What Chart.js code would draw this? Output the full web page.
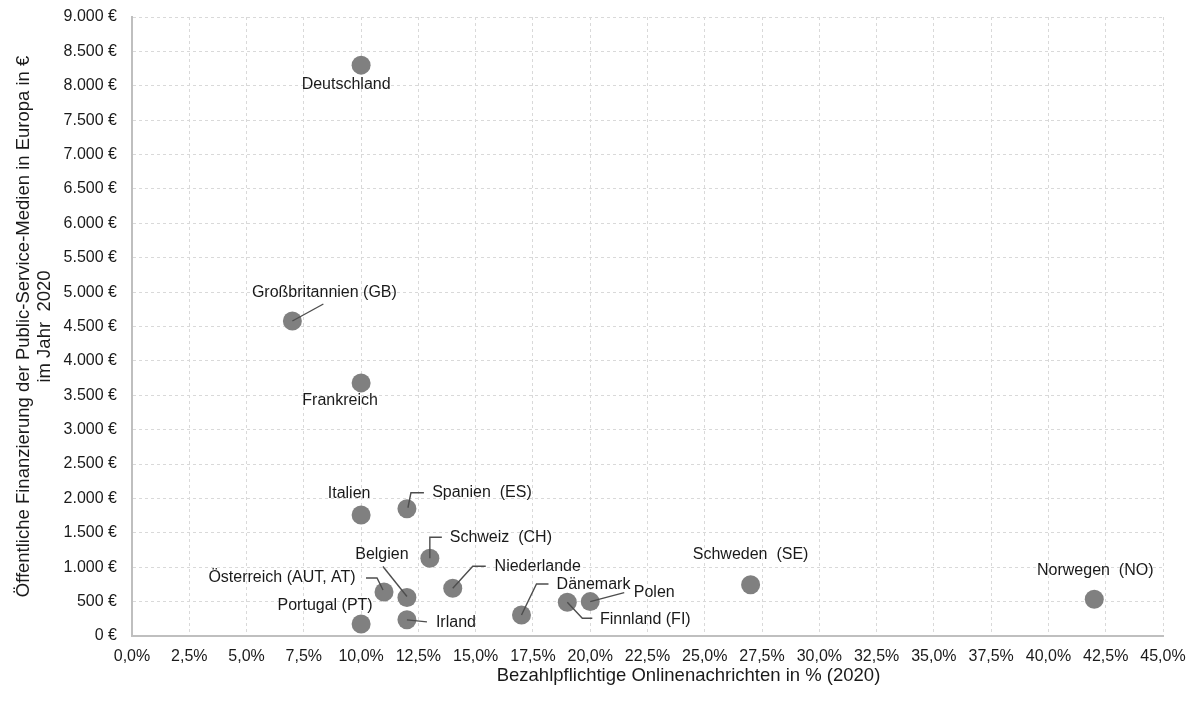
<!DOCTYPE html>
<html lang="de">
<head>
<meta charset="utf-8">
<title>Public-Service-Medien in Europa</title>
<script src="https://cdn.jsdelivr.net/npm/chart.js@4.4.1/dist/chart.umd.min.js"></script>
<style>
    html, body { margin: 0; padding: 0; background: #ffffff; }
    #wrap { width: 1200px; height: 704px; }
</style>
</head>
<body>
<div id="wrap"><canvas id="scatterChart" width="1200" height="704"></canvas></div>
<script>
// Data
const countries = [
    'Deutschland', 'Großbritannien (GB)', 'Frankreich', 'Italien', 'Spanien  (ES)',
    'Schweiz  (CH)', 'Belgien', 'Irland', 'Portugal (PT)', 'Österreich (AUT, AT)',
    'Niederlande', 'Dänemark', 'Finnland (FI)', 'Polen', 'Schweden  (SE)', 'Norwegen  (NO)'
];
// Bezahlpflichtige Onlinenachrichten in % (2020)
const paidOnlineNews = [10, 7, 10, 10, 12, 13, 12, 12, 10, 11, 14, 17, 19, 20, 27, 42];
// Öffentliche Finanzierung in € (2020)
const publicFunding = [8300, 4580, 3680, 1760, 1850, 1130, 560, 235, 175, 640, 695, 305, 490, 500, 745, 535];

const xTitle = 'Bezahlpflichtige Onlinenachrichten in % (2020)';
const yTitle = ['Öffentliche Finanzierung der Public-Service-Medien in Europa in €', 'im Jahr  2020'];

// label placement (pixel offsets from the point), leader = polyline offsets
const labelLayout = [
    { dx: -15, dy: 19 },
    { dx: 32, dy: -28, leader: [[0, 0], [31, -17]] },
    { dx: -21, dy: 18 },
    { dx: -12, dy: -21 },
    { dx: 75, dy: -16, leader: [[1, -1], [4, -16], [17, -16]] },
    { dx: 71, dy: -21, leader: [[0, 0], [0, -21], [12, -21]] },
    { dx: -25, dy: -43, leader: [[-24, -31], [0, -1]] },
    { dx: 49, dy: 3, leader: [[0, 0], [20, 2]] },
    { dx: -36, dy: -18 },
    { dx: -102, dy: -14, leader: [[-18, -14], [-7, -14], [-1, -2]] },
    { dx: 85, dy: -22, leader: [[0, 0], [20, -22], [33, -22]] },
    { dx: 72, dy: -30, leader: [[0, 0], [15, -31], [27, -31]] },
    { dx: 78, dy: 17, leader: [[0, 0], [15, 16], [25, 16]] },
    { dx: 64, dy: -9, leader: [[0, 0], [34, -9]] },
    { dx: 0, dy: -30 },
    { dx: 1, dy: -29 }
];

const FONT = "'Liberation Sans', Arial, sans-serif";
const TEXT = '#1a1a1a';

function euro(v) {
    const s = String(Math.round(v)).replace(/\B(?=(\d{3})+(?!\d))/g, '.');
    return s + ' €';
}

function percent(v) {
    return v.toFixed(1).replace('.', ',') + '%';
}

// draws country names plus their leader lines
const pointLabels = {
    id: 'pointLabels',
    afterDatasetsDraw(chart) {
        const { ctx } = chart;
        const meta = chart.getDatasetMeta(0);
        ctx.save();
        ctx.font = '16px ' + FONT;
        ctx.fillStyle = TEXT;
        ctx.textAlign = 'center';
        ctx.textBaseline = 'middle';
        ctx.strokeStyle = '#4d4d4d';
        ctx.lineWidth = 1.4;
        meta.data.forEach((pt, i) => {
            const lay = labelLayout[i];
            if (lay.leader) {
                ctx.beginPath();
                lay.leader.forEach(([ox, oy], k) => {
                    if (k === 0) ctx.moveTo(pt.x + ox, pt.y + oy);
                    else ctx.lineTo(pt.x + ox, pt.y + oy);
                });
                ctx.stroke();
            }
            ctx.fillText(countries[i], pt.x + lay.dx, pt.y + lay.dy);
        });
        ctx.restore();
    }
};

// x axis title sits a bit right of the plot centre in the original
const xAxisTitle = {
    id: 'xAxisTitle',
    afterDraw(chart) {
        const { ctx, chartArea } = chart;
        ctx.save();
        ctx.font = '18.5px ' + FONT;
        ctx.fillStyle = TEXT;
        ctx.textAlign = 'center';
        ctx.textBaseline = 'middle';
        ctx.fillText(xTitle, (chartArea.left + chartArea.right) / 2 + 41, chartArea.bottom + 40);
        ctx.restore();
    }
};

const ctx = document.getElementById('scatterChart').getContext('2d');

new Chart(ctx, {
    type: 'scatter',
    data: {
        datasets: [{
            label: 'Länder',
            data: paidOnlineNews.map((x, i) => ({ x: x, y: publicFunding[i] })),
            backgroundColor: '#808080',
            borderWidth: 0,
            pointRadius: 9.5,
            pointHoverRadius: 9.5
        }]
    },
    options: {
        responsive: false,
        animation: false,
        layout: { padding: { top: 17, right: 37, left: 0, bottom: 0 } },
        plugins: {
            legend: { display: false },
            tooltip: { enabled: false }
        },
        scales: {
            x: {
                type: 'linear',
                min: 0,
                max: 45,
                afterFit: (s) => { s.height = 68; s.paddingLeft = 0; s.paddingRight = 0; },
                ticks: {
                    stepSize: 2.5,
                    padding: 11,
                    color: TEXT,
                    font: { family: FONT, size: 16 },
                    callback: (v) => percent(v)
                },
                grid: { color: '#d9d9d9', lineWidth: 1, drawTicks: false },
                border: { display: true, color: '#bfbfbf', width: 2, dash: [3, 3] }
            },
            y: {
                min: 0,
                max: 9000,
                afterFit: (s) => { s.width = 132; s.paddingTop = 0; s.paddingBottom = 0; },
                ticks: {
                    stepSize: 500,
                    padding: 15,
                    color: TEXT,
                    font: { family: FONT, size: 16 },
                    callback: (v) => euro(v)
                },
                grid: { color: '#d9d9d9', lineWidth: 1, drawTicks: false },
                border: { display: true, color: '#bfbfbf', width: 2, dash: [3, 3] },
                title: {
                    display: true,
                    text: yTitle,
                    color: TEXT,
                    font: { family: FONT, size: 18.5, lineHeight: 1.15 },
                    padding: { top: 13, bottom: 0 }
                }
            }
        }
    },
    plugins: [pointLabels, xAxisTitle]
});
</script>
</body>
</html>
